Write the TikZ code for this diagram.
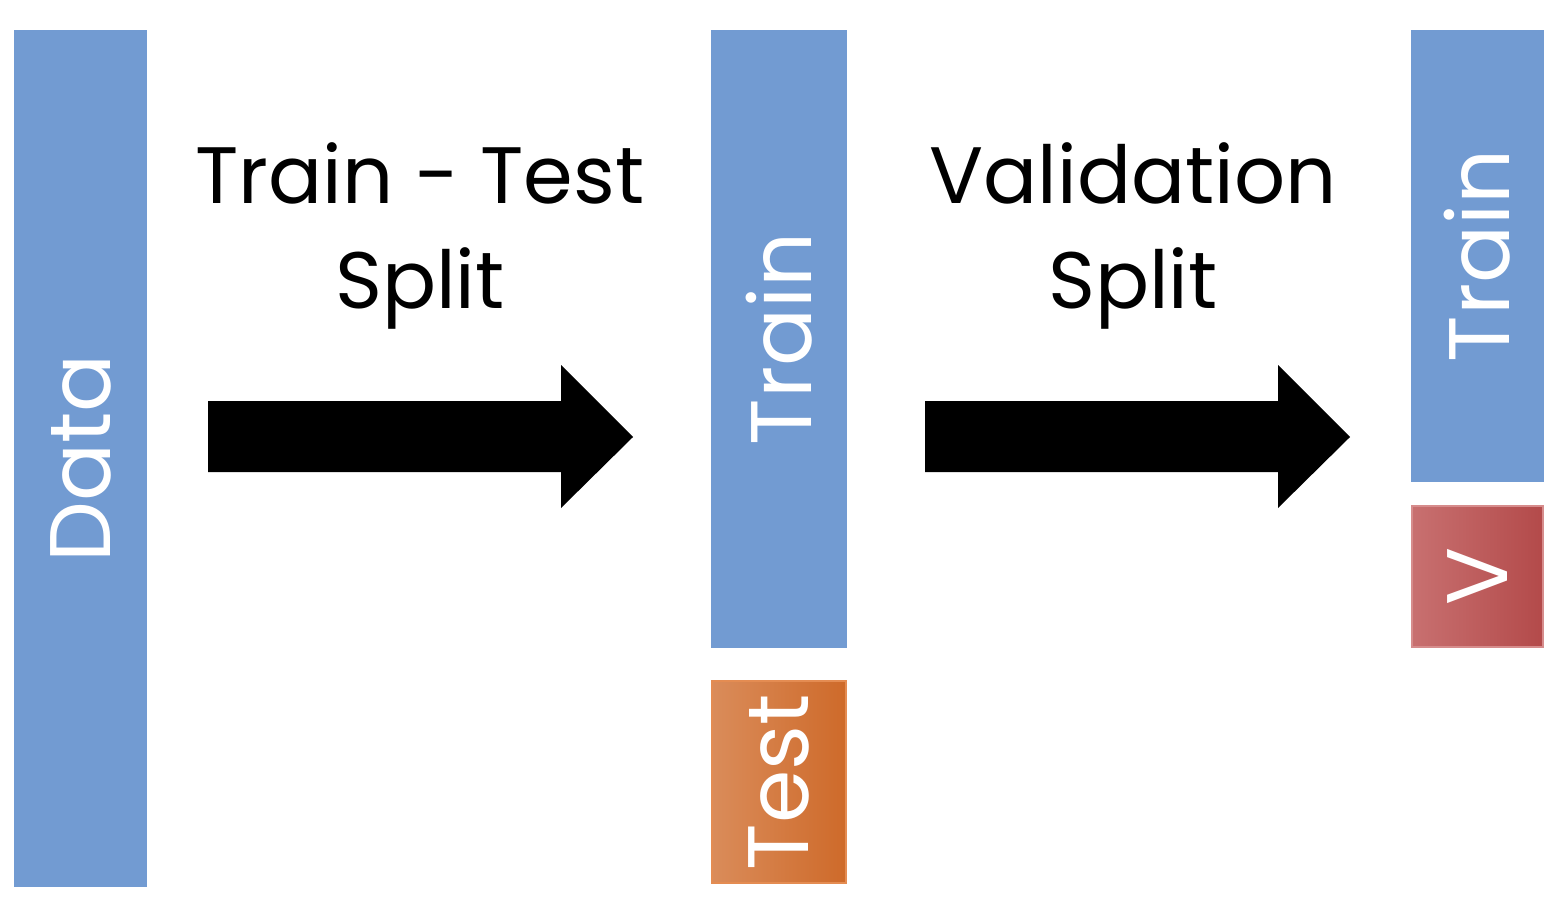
\documentclass[tikz,border=0pt]{standalone}
\usepackage{fontspec}
\setmainfont{Poppins}
\usepackage{tikz}
\usetikzlibrary{positioning}

\definecolor{barblue}{RGB}{114,155,210}
\definecolor{testleft}{RGB}{218,140,90}
\definecolor{testright}{RGB}{206,106,42}
\definecolor{testedge}{RGB}{228,140,82}
\definecolor{valleft}{RGB}{200,112,112}
\definecolor{valright}{RGB}{179,74,74}
\definecolor{valedge}{RGB}{214,140,140}

\tikzset{
  bar/.style={rectangle, fill=barblue, inner sep=0pt, text=white, rotate=90,
    font=\fontsize{86}{86}\selectfont},
  testbox/.style={bar, left color=testleft, right color=testright, shading angle=90,
    draw=testedge, line width=2pt},
  valbox/.style={bar, left color=valleft, right color=valright, shading angle=90,
    draw=valedge, line width=2pt},
  steplabel/.style={align=center, font=\fontsize{80}{105}\selectfont},
  blockarrow/.style={fill=black},
}

\begin{document}
\begin{tikzpicture}[x=1pt,y=-1pt]
  \useasboundingbox (0,0) rectangle (1561,916);
  % Balken
  \node[bar, minimum width=857, minimum height=133] (data) at (80.5,458.5) {Data};
  \node[bar, minimum width=618, minimum height=136] (train) at (779,339) {Train};
  \node[testbox, minimum width=202, minimum height=134] (test) at (779,782) {Test};
  \node[bar, minimum width=452, minimum height=133] (train2) at (1477.5,256) {Train};
  \node[valbox, minimum width=141, minimum height=131] (val) at (1477.5,576.5) {V};
  % Beschriftungen
  \node[steplabel] (split1) at (420,236) {Train - Test\\Split};
  \node[steplabel] (split2) at (1133,236) {Validation\\Split};
  % Pfeile
  \fill[blockarrow] (208,401) -- (561,401) -- (561,365) -- (633,437)
    -- (561,508) -- (561,472) -- (208,472) -- cycle;
  \fill[blockarrow] (925,401) -- (1278,401) -- (1278,365) -- (1350,437)
    -- (1278,508) -- (1278,472) -- (925,472) -- cycle;
\end{tikzpicture}
\end{document}
